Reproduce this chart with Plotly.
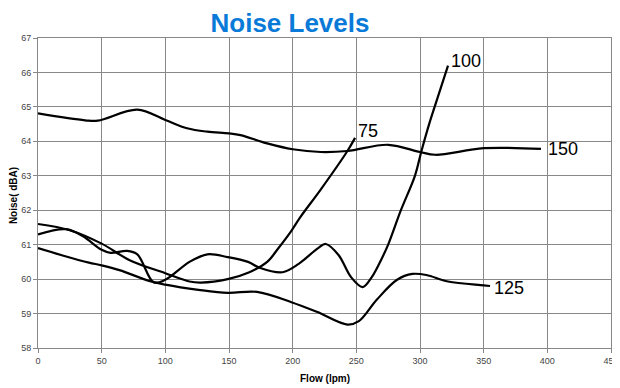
import plotly.graph_objects as go

# Flow (lpm) and noise (dBA) for each series
flow_75 = [0, 25, 50, 72, 100, 119, 128, 149, 166, 180, 188, 199, 206, 222, 243, 249]
noise_75 = [61.6, 61.42, 61.03, 60.55, 60.17, 59.93, 59.9, 60.0, 60.2, 60.5, 60.86, 61.4, 61.8, 62.6, 63.72, 64.1]

flow_100 = [0, 22, 35, 50, 57, 70, 78, 91, 100, 119, 133, 149, 165, 174, 192, 205, 220, 226, 236, 246, 255, 262, 270, 275, 285, 296, 301, 308, 315, 322]
noise_100 = [61.3, 61.45, 61.25, 60.85, 60.76, 60.82, 60.72, 59.9, 59.98, 60.5, 60.72, 60.64, 60.5, 60.33, 60.2, 60.45, 60.9, 61.02, 60.7, 60.05, 59.77, 60.05, 60.6, 61.0, 62.0, 63.0, 63.7, 64.6, 65.4, 66.2]

flow_125 = [0, 20, 40, 50, 64, 88, 100, 126, 149, 172, 199, 219, 243, 252, 266, 282, 294, 305, 322, 350, 355]
noise_125 = [60.9, 60.68, 60.48, 60.4, 60.26, 59.94, 59.84, 59.69, 59.6, 59.63, 59.33, 59.05, 58.68, 58.78, 59.4, 59.98, 60.15, 60.12, 59.93, 59.82, 59.8]

flow_150 = [0, 37, 47, 78, 100, 117, 133, 150, 159, 180, 200, 222, 243, 275, 300, 312, 350, 395]
noise_150 = [64.81, 64.61, 64.6, 64.92, 64.62, 64.38, 64.28, 64.23, 64.18, 63.94, 63.77, 63.69, 63.72, 63.9, 63.69, 63.61, 63.8, 63.78]

series = [("75", flow_75, noise_75), ("100", flow_100, noise_100),
          ("125", flow_125, noise_125), ("150", flow_150, noise_150)]

x_ticks = [0, 50, 100, 150, 200, 250, 300, 350, 400, 450]
y_ticks = [58, 59, 60, 61, 62, 63, 64, 65, 66, 67]

FONT = "Liberation Sans, Arial"
W, H = 620, 380
ML, MR, MT, MB = 30, 17, 30, 40
PW, PH = W - ML - MR, H - MT - MB

fig = go.Figure()
for name, xs, ys in series:
    fig.add_trace(go.Scatter(x=xs, y=ys, mode="lines", name=name,
                             line=dict(color="black", width=2.2, shape="spline", smoothing=1.0),
                             showlegend=False, hoverinfo="skip"))

# end-of-line labels
label_pos = {"75": (1, 0.2), "100": (0.5, 0.13), "125": (1.5, -0.05), "150": (4, 0.0)}
for name, xs, ys in series:
    dx, dy = label_pos[name]
    fig.add_annotation(x=xs[-1] + dx, y=ys[-1] + dy, text=name, showarrow=False,
                       xanchor="left", yanchor="middle",
                       font=dict(family=FONT, size=18, color="black"))

# axis titles as annotations for exact placement
fig.add_annotation(xref="paper", yref="paper", x=-25 / PW, y=0.49, text="<b>Noise( dBA)</b>",
                   textangle=-90, showarrow=False, xanchor="center", yanchor="middle",
                   font=dict(family=FONT, size=10, color="black"))
fig.add_annotation(xref="paper", yref="paper", x=0.5, y=-30 / PH, text="<b>Flow (lpm)</b>",
                   showarrow=False, xanchor="center", yanchor="middle",
                   font=dict(family=FONT, size=10, color="black"))

fig.update_layout(
    width=W, height=H,
    margin=dict(l=ML, r=MR, t=MT, b=MB, autoexpand=False),
    paper_bgcolor="white", plot_bgcolor="white",
    title=dict(text="<b>Noise Levels</b>", x=(ML + 252) / W, xanchor="center", y=1 - 15 / H, yanchor="middle",
               font=dict(family=FONT, size=26, color="#0a7ad8")),
    font=dict(family=FONT, size=9, color="#444"),
)
fig.update_xaxes(range=[0, 450], tickvals=x_ticks, ticktext=[str(v) for v in x_ticks],
                 showgrid=True, gridcolor="#888", gridwidth=1, automargin=False,
                 showline=True, linecolor="#888", linewidth=1, mirror=True,
                 ticks="outside", ticklen=4, tickcolor="#888", ticklabeloverflow="allow",
                 tickfont=dict(size=9, color="#444"), zeroline=False)
fig.update_yaxes(range=[58, 67], tickvals=y_ticks, ticktext=[str(v) for v in y_ticks],
                 showgrid=True, gridcolor="#888", gridwidth=1, automargin=False,
                 showline=True, linecolor="#888", linewidth=1, mirror=True,
                 ticks="outside", ticklen=4, tickcolor="#888", ticklabeloverflow="allow",
                 tickfont=dict(size=9, color="#444"), zeroline=False)

fig.write_html("out.html")
